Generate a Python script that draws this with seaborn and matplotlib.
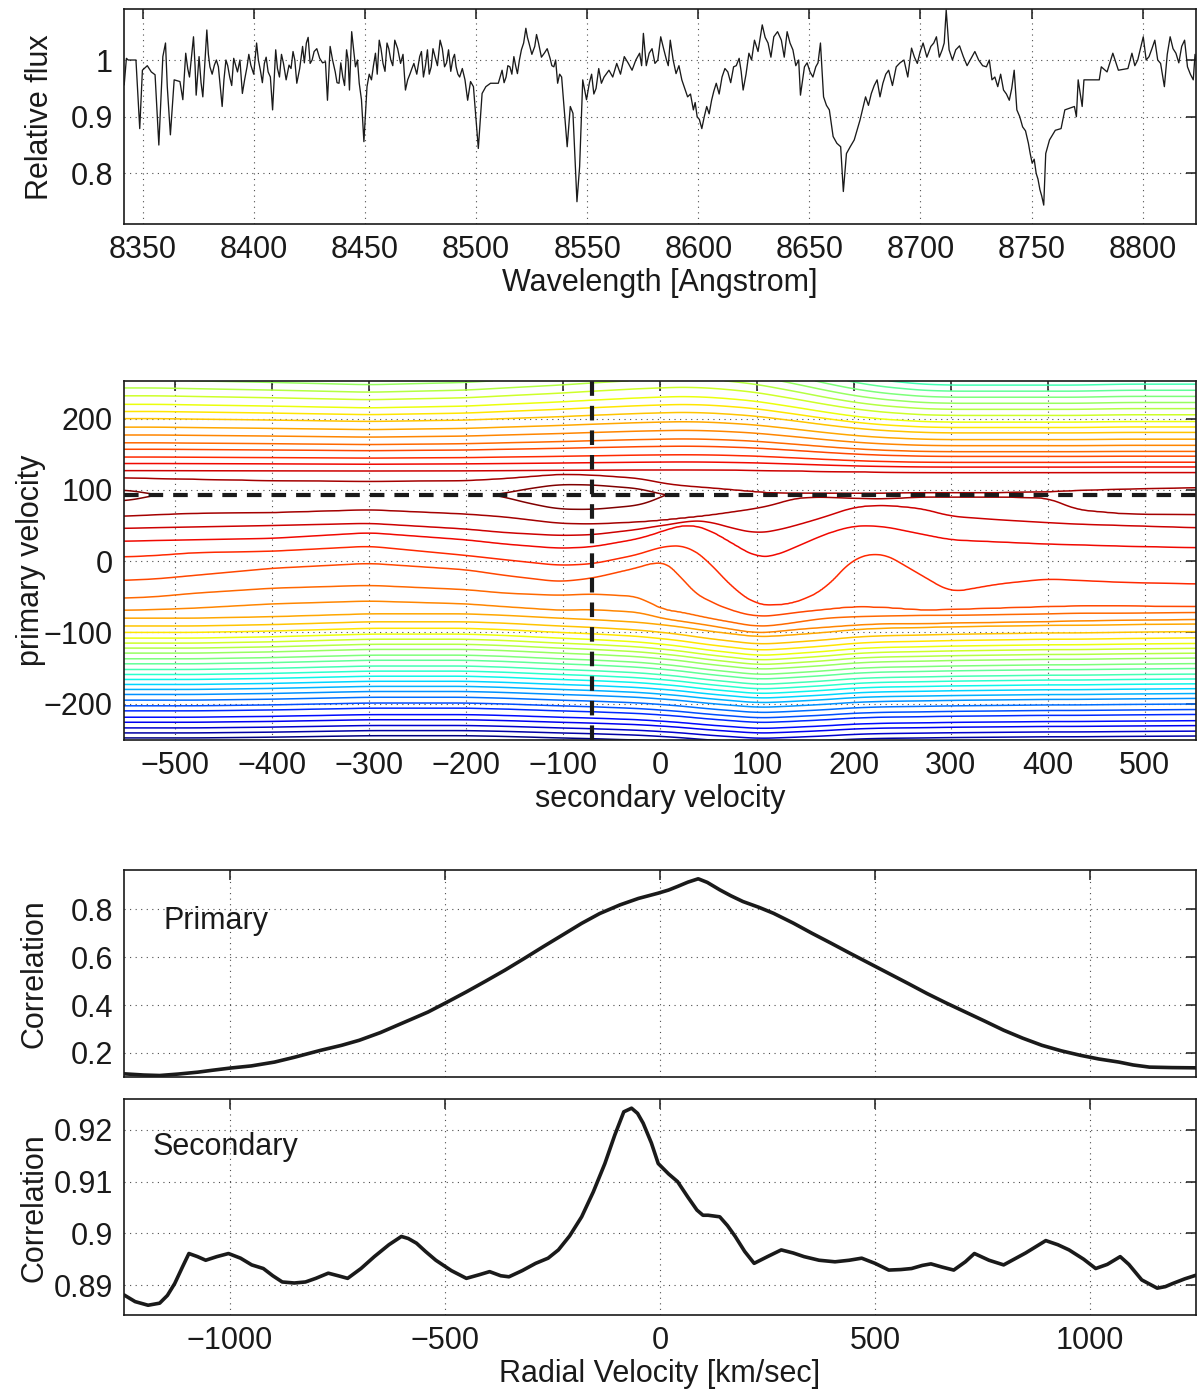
import numpy as np
import matplotlib
matplotlib.use("Agg")
import matplotlib.pyplot as plt
import seaborn as sns

# ---------------- spectrum (top panel) ----------------
wavelength = [8341.6, 8342.6, 8343.4, 8346.9, 8348.6, 8349.8, 8352.0, 8353.8, 8355.5, 8357.2,
              8359.0, 8360.2, 8361.0, 8362.4, 8364.1, 8366.7, 8368.0, 8369.3, 8371.0, 8372.8,
              8374.0, 8375.3, 8377.0, 8378.8, 8380.2, 8382.2, 8384.0, 8385.7, 8387.4, 8389.1,
              8390.9, 8392.6, 8394.8, 8396.9, 8398.6, 8401.2, 8402.9, 8404.7, 8406.4, 8408.4,
              8409.8, 8411.5, 8413.3, 8415.8, 8417.6, 8419.3, 8421.9, 8423.6, 8425.3, 8427.1,
              8429.6, 8432.2, 8433.1, 8434.3, 8436.6, 8438.3, 8440.0, 8441.7, 8443.0, 8444.0,
              8445.7, 8447.4, 8449.5, 8450.9, 8452.9, 8454.7, 8456.4, 8458.1, 8459.9, 8461.6,
              8463.4, 8466.0, 8468.2, 8470.3, 8472.0, 8474.6, 8476.3, 8478.1, 8479.8, 8481.5,
              8483.8, 8485.8, 8487.6, 8489.6, 8491.0, 8492.6, 8495.0, 8496.2, 8497.5, 8498.8,
              8501.0, 8502.7, 8504.4, 8506.5, 8510.0, 8511.7, 8513.5, 8515.2, 8517.0, 8518.6,
              8520.4, 8522.4, 8523.8, 8526.4, 8528.1, 8530.7, 8533.3, 8535.0, 8536.7, 8538.5,
              8539.7, 8541.0, 8542.4, 8543.6, 8545.4, 8546.6, 8548.0, 8549.7, 8552.0, 8554.0,
              8556.4, 8559.8, 8563.3, 8566.7, 8570.2, 8573.6, 8575.3, 8577.9, 8580.5, 8583.1,
              8585.7, 8587.4, 8590.0, 8592.6, 8595.2, 8597.8, 8599.5, 8601.6, 8603.8, 8606.0,
              8608.1, 8610.7, 8613.3, 8615.9, 8618.4, 8620.2, 8622.8, 8625.3, 8628.8, 8631.4,
              8634.0, 8637.4, 8640.0, 8642.6, 8645.2, 8646.0, 8647.8, 8650.3, 8652.9, 8655.0,
              8656.4, 8659.0, 8660.7, 8662.4, 8664.1, 8665.3, 8666.7, 8668.4, 8670.2, 8672.8,
              8675.3, 8677.9, 8680.5, 8683.1, 8685.7, 8689.1, 8692.6, 8696.0, 8698.6, 8701.2,
              8704.7, 8707.2, 8709.8, 8711.6, 8712.9, 8715.9, 8719.3, 8722.8, 8726.2, 8729.7,
              8732.2, 8734.8, 8737.4, 8740.0, 8742.2, 8743.4, 8746.0, 8748.6, 8750.3, 8752.1,
              8753.8, 8755.5, 8756.4, 8758.1, 8760.7, 8763.3, 8765.0, 8769.3, 8770.2, 8771.0,
              8772.8, 8773.6, 8780.5, 8781.4, 8784.0, 8786.6, 8789.1, 8793.4, 8795.2, 8797.8,
              8800.3, 8802.9, 8805.5, 8808.1, 8809.8, 8812.4, 8815.0, 8817.6, 8820.2, 8822.8,
              8824.5]
rel_flux = [0.956, 1.003, 1.000, 1.000, 0.879, 0.982, 0.990, 0.979, 0.974, 0.850,
            1.006, 1.030, 0.953, 0.868, 0.965, 0.962, 0.930, 1.012, 0.970, 1.041,
            0.938, 1.006, 0.935, 1.053, 0.988, 0.991, 0.988, 0.918, 1.000, 0.970,
            1.003, 0.979, 0.941, 0.988, 0.991, 1.030, 0.982, 0.994, 0.979, 0.912,
            1.018, 0.970, 0.994, 0.991, 1.015, 0.959, 1.024, 1.030, 0.994, 1.015,
            1.003, 0.997, 0.929, 1.024, 0.979, 0.959, 0.970, 1.018, 0.947, 1.050,
            0.988, 0.959, 0.856, 0.953, 0.965, 1.012, 1.035, 0.994, 1.030, 1.000,
            1.035, 0.994, 0.947, 0.976, 0.994, 1.006, 0.970, 1.018, 0.988, 1.006,
            1.035, 0.988, 1.018, 1.003, 0.988, 0.970, 0.965, 0.929, 0.962, 0.953,
            0.844, 0.941, 0.953, 0.959, 0.959, 0.982, 0.970, 0.988, 1.006, 0.976,
            1.018, 1.056, 1.030, 1.024, 1.030, 1.012, 1.003, 0.988, 0.959, 0.970,
            0.912, 0.847, 0.918, 0.906, 0.750, 0.812, 0.965, 0.930, 0.975, 0.950,
            0.959, 0.982, 0.994, 1.006, 0.982, 1.012, 1.047, 1.012, 0.994, 1.041,
            1.000, 1.035, 0.976, 0.965, 0.935, 0.912, 0.900, 0.879, 0.918, 0.929,
            0.959, 0.970, 0.979, 0.988, 1.003, 0.947, 1.012, 1.035, 1.062, 1.030,
            1.041, 1.035, 1.050, 1.018, 1.000, 0.938, 0.988, 0.979, 0.988, 1.030,
            0.935, 0.912, 0.865, 0.853, 0.847, 0.768, 0.835, 0.847, 0.859, 0.894,
            0.935, 0.941, 0.965, 0.959, 0.982, 0.988, 1.000, 1.021, 0.994, 1.030,
            1.024, 1.041, 1.018, 1.088, 1.018, 1.018, 1.006, 1.003, 1.000, 0.988,
            0.965, 0.953, 0.947, 0.929, 0.982, 0.912, 0.882, 0.853, 0.818, 0.800,
            0.771, 0.744, 0.835, 0.859, 0.876, 0.879, 0.912, 0.918, 0.900, 0.965,
            0.918, 0.965, 0.965, 0.988, 0.979, 1.012, 0.982, 0.985, 1.012, 1.000,
            1.041, 1.006, 1.035, 0.994, 0.953, 1.041, 1.012, 1.024, 0.988, 0.965,
            0.994]
# finer jitter readings between the points above
wavelength_fine = [8370.2, 8373.5, 8376.2, 8379.5, 8381.2, 8383.1, 8386.5, 8388.2, 8390.0, 8391.8,
                   8393.7, 8395.8, 8397.7, 8399.9, 8402.0, 8403.8, 8405.5, 8407.4, 8410.6, 8412.4,
                   8414.5, 8416.7, 8418.4, 8420.6, 8422.7, 8424.4, 8426.2, 8428.3, 8430.9, 8435.4,
                   8437.4, 8439.1, 8440.8, 8442.4, 8446.6, 8448.4, 8451.9, 8453.8, 8455.5, 8457.2,
                   8459.0, 8460.7, 8462.5, 8464.7, 8467.1, 8469.2, 8471.1, 8473.3, 8475.4, 8477.2,
                   8478.9, 8480.6, 8482.6, 8484.8, 8486.7, 8488.6, 8490.3, 8491.8, 8493.8, 8512.6,
                   8514.3, 8516.1, 8517.8, 8519.5, 8521.4, 8523.1, 8525.1, 8527.2, 8529.4, 8532.0,
                   8534.1, 8535.8, 8537.6, 8551.0, 8553.0, 8555.2, 8557.6, 8561.5, 8565.0, 8568.4,
                   8571.9, 8574.5, 8576.6, 8579.2, 8581.8, 8584.4, 8586.5, 8588.7, 8591.3, 8593.9,
                   8596.5, 8598.6, 8600.5, 8602.7, 8604.9, 8607.0, 8609.4, 8612.0, 8614.6, 8617.1,
                   8619.3, 8621.5, 8624.0, 8626.9, 8630.1, 8632.7, 8635.7, 8638.7, 8641.3, 8643.9,
                   8649.0, 8651.6, 8653.9, 8657.7, 8676.6, 8679.2, 8681.8, 8684.4, 8687.4, 8690.8,
                   8694.3, 8697.3, 8699.9, 8702.9, 8706.0, 8708.5, 8710.7, 8714.4, 8717.6, 8721.0,
                   8724.5, 8728.0, 8731.0, 8733.5, 8736.1, 8738.7, 8741.1, 8744.7, 8747.3, 8749.4,
                   8751.2, 8752.9, 8754.6, 8796.5, 8799.0, 8801.6, 8804.2, 8806.8, 8811.1, 8813.7,
                   8816.3, 8818.9, 8821.5, 8823.6]
rel_flux_fine = [0.985, 0.990, 0.960, 1.010, 0.975, 1.000, 0.965, 0.990, 0.955, 0.990,
                 1.000, 0.965, 1.010, 0.975, 1.000, 0.960, 1.005, 0.970, 0.985, 1.010,
                 0.965, 0.985, 1.000, 0.985, 0.995, 1.040, 1.000, 1.020, 0.995, 1.000,
                 0.960, 0.995, 0.955, 1.000, 1.000, 0.930, 0.975, 0.990, 0.975, 1.020,
                 0.980, 1.020, 0.990, 1.020, 1.010, 0.965, 0.985, 0.975, 1.015, 0.990,
                 0.975, 1.020, 0.990, 1.020, 0.995, 0.980, 1.010, 0.975, 0.985, 0.960,
                 0.990, 0.975, 0.990, 1.000, 1.030, 1.040, 1.010, 1.045, 1.005, 1.020,
                 0.990, 1.000, 0.975, 0.960, 0.940, 0.985, 0.970, 0.970, 0.975, 0.995,
                 1.000, 0.990, 0.990, 1.020, 1.000, 1.020, 0.990, 1.000, 0.990, 0.950,
                 0.940, 0.925, 0.895, 0.900, 0.905, 0.945, 0.940, 0.985, 0.960, 0.990,
                 0.980, 0.975, 1.000, 1.015, 1.040, 1.005, 1.050, 1.005, 1.030, 0.990,
                 0.995, 0.970, 0.995, 0.920, 0.920, 0.955, 0.935, 0.975, 0.955, 0.995,
                 0.970, 1.005, 1.015, 1.005, 1.030, 1.005, 1.030, 1.000, 1.025, 0.990,
                 1.015, 0.990, 1.000, 0.970, 0.975, 0.940, 0.950, 0.900, 0.875, 0.835,
                 0.825, 0.790, 0.760, 0.990, 1.020, 1.000, 1.020, 1.000, 1.010, 1.020,
                 0.995, 1.035, 0.975, 1.010]

# ---------------- 2-D correlation surface (middle panel) ----------------
# secondary velocity nodes where contour positions were read
sec_nodes = [-553, -520, -480, -400, -300, -200, -160, -104, -70, -20, 0, 15, 30, 50,
             75, 100, 120, 140, 170, 200, 230, 270, 300, 350, 400, 430, 480, 553]
ridge_y = 93
ridge_level = [31.4, 31.0, 30.7, 30.6, 30.6, 30.8, 31.1, 32.0, 32.0, 31.6, 31.05, 30.9, 30.8, 30.7,
               30.6, 30.5, 30.4, 30.35, 30.3, 30.25, 30.2, 30.3, 30.35, 30.4, 30.45, 30.5, 30.55, 30.6]
# primary velocity of individual contour levels (below the ridge)
lev30_lo = [63, 65, 67, 68, 72, 66, 62, 53, 52, 55, 57, 59, 61, 64,
            69, 74, 80, 89, 90, 88, 87, 90, 90, 90, 89, 72, 66, 65]
lev29_lo = [46, 47, 48, 50, 53, 45, 40, 36, 37, 45, 50, 52, 57, 56,
            46, 39, 43, 50, 62, 76, 79, 74, 63, 58, 54, 52, 50, 47]
lev28_lo = [28, 29, 30, 32, 40, 30, 24, 18, 20, 32, 41, 48, 52, 45,
            25, 5, 8, 20, 38, 50, 49, 38, 30, 27, 24, 23, 21, 19]
lev27_lo = [6, 8, 12, 14, 21, 8, 2, -6, -4, 10, 20, 22, 21, 0,
            -38, -62, -62, -59, -40, 5, 12, -20, -44, -32, -25, -27, -30, -32]
lev26_lo = [-27, -25, -20, -10, -3, -12, -20, -29, -24, -8, 1, -8, -40, -56,
            -70, -78, -76, -72, -68, -64, -65, -69, -68, -66, -64, -63, -63, -64]
lev25_lo = [-52, -50, -45, -38, -34, -40, -45, -48, -46, -50, -68, -70, -74, -80,
            -86, -92, -90, -86, -80, -78, -77, -76, -76, -75, -74, -73, -73, -72]
lev24_lo = [-69, -68, -66, -60, -56, -60, -64, -69, -68, -72, -80, -83, -86, -90,
            -96, -101, -99, -96, -93, -90, -88, -88, -87, -86, -85, -84, -83, -82]
lev30_up = [117, 116, 115, 113, 112, 113, 116, 122, 121, 116, 110, 107, 105, 103,
            100, 97, 95, 95, 95, 95, 95, 96, 96, 96, 97, 99, 101, 103]
# outer levels: position at the left edge, plus a shift along secondary velocity
outer_lo_levels = list(range(0, 24))
outer_lo_y = [-256, -248, -241, -234, -226, -219, -210, -203, -195, -187, -180, -173,
              -166, -159, -152, -144, -137, -129, -122, -115, -108, -100, -91, -80]
outer_lo_shift = [0, 0, 0, 2, 6, 6, 4, 0, -2, -6, -9, -11, -14, -18,
                  -22, -26, -25, -23, -20, -16, -14, -13, -12, -11, -10, -10, -9, -8]
outer_up_levels = list(range(29, 12, -1))
outer_up_y = [127, 137, 146, 157, 166, 177, 188, 200, 210, 220, 232, 243, 254, 265, 276, 287, 298]
outer_up_shift = [0, 0, -1, -3, -6, -3, 0, 4, 7, 11, 12, 13, 13, 12,
                  9, 5, 0, -5, -13, -20, -25, -29, -30, -30, -30, -30, -29, -29]
contour_levels = list(range(1, 32))
v_secondary_best = -70
v_primary_best = 93

# ---------------- 1-D correlations (bottom panels) ----------------
prim_v = [-1246, -1200, -1163, -1120, -1074, -1040, -999, -950, -896, -850, -789, -740, -699,
          -650, -610, -575, -539, -495, -450, -405, -360, -315, -271, -225, -182, -140, -93,
          -50, -4, 20, 41, 65, 89, 110, 139, 165, 193, 230, 264, 310, 353, 398, 442, 487,
          532, 577, 621, 665, 710, 755, 799, 843, 888, 933, 978, 1020, 1067, 1100, 1138,
          1190, 1246]
prim_corr = [0.113, 0.108, 0.106, 0.112, 0.120, 0.128, 0.137, 0.146, 0.162, 0.182, 0.211, 0.232,
             0.253, 0.285, 0.316, 0.343, 0.371, 0.412, 0.455, 0.500, 0.546, 0.595, 0.644, 0.694,
             0.741, 0.782, 0.818, 0.845, 0.867, 0.880, 0.895, 0.913, 0.927, 0.912, 0.881, 0.856,
             0.832, 0.808, 0.783, 0.742, 0.700, 0.658, 0.616, 0.574, 0.532, 0.490, 0.448, 0.409,
             0.371, 0.333, 0.295, 0.262, 0.232, 0.209, 0.190, 0.175, 0.162, 0.150, 0.141, 0.139,
             0.138]
sec_v = [-1246, -1220, -1190, -1163, -1145, -1128, -1110, -1095, -1075, -1056, -1030, -1003,
         -975, -949, -922, -900, -878, -850, -824, -800, -771, -748, -726, -695, -664, -630,
         -601, -585, -566, -545, -521, -485, -450, -420, -396, -370, -351, -320, -289, -260,
         -236, -210, -182, -155, -128, -105, -84, -66, -52, -39, -20, -4, 20, 41, 65, 86,
         100, 112, 139, 157, 175, 197, 219, 250, 282, 310, 335, 370, 407, 440, 469, 500,
         532, 560, 585, 610, 630, 655, 683, 710, 731, 765, 799, 850, 897, 925, 951, 985,
         1013, 1040, 1070, 1090, 1120, 1156, 1175, 1192, 1220, 1246]
sec_corr = [0.8881, 0.8868, 0.8861, 0.8865, 0.8880, 0.8903, 0.8935, 0.8961, 0.8955, 0.8948,
            0.8955, 0.8961, 0.8952, 0.8939, 0.8932, 0.8918, 0.8906, 0.8904, 0.8906, 0.8913,
            0.8923, 0.8918, 0.8913, 0.8932, 0.8955, 0.8978, 0.8994, 0.8990, 0.8981, 0.8965,
            0.8948, 0.8928, 0.8913, 0.8920, 0.8926, 0.8918, 0.8916, 0.8928, 0.8942, 0.8952,
            0.8968, 0.8995, 0.9032, 0.9080, 0.9135, 0.9190, 0.9235, 0.9242, 0.9232, 0.9213,
            0.9175, 0.9135, 0.9115, 0.9100, 0.9070, 0.9045, 0.9035, 0.9035, 0.9032, 0.9015,
            0.8994, 0.8965, 0.8942, 0.8955, 0.8968, 0.8962, 0.8955, 0.8948, 0.8945, 0.8948,
            0.8952, 0.8942, 0.8929, 0.8930, 0.8932, 0.8938, 0.8941, 0.8935, 0.8929, 0.8945,
            0.8961, 0.8948, 0.8939, 0.8962, 0.8986, 0.8978, 0.8968, 0.8950, 0.8932, 0.8940,
            0.8955, 0.8940, 0.8910, 0.8894, 0.8897, 0.8903, 0.8912, 0.8919]

# ---------------- style ----------------
sns.set_theme(style="white")
plt.rcParams["font.family"] = ["Liberation Sans", "DejaVu Sans"]
plt.rcParams["font.size"] = 22
plt.rcParams["text.color"] = "k"
plt.rcParams["axes.labelcolor"] = "k"
plt.rcParams["xtick.color"] = "k"
plt.rcParams["ytick.color"] = "k"
FS = 22


def matlab_axes(ax, ylab_x):
    ax.tick_params(direction="in", length=7, width=1.1, top=True, right=True,
                   labelsize=FS, colors="k", pad=8)
    ax.grid(True, linestyle=(0, (1, 4)), color="0.3", linewidth=0.8)
    ax.yaxis.set_label_coords(ylab_x, 0.5)
    for s in ax.spines.values():
        s.set_color("k")
        s.set_linewidth(1.2)


fig = plt.figure(figsize=(12, 13.95), dpi=100)
ax1 = fig.add_axes([0.1033, 0.8394, 0.8933, 0.1539])
ax2 = fig.add_axes([0.1033, 0.4695, 0.8933, 0.2573])
ax3 = fig.add_axes([0.1033, 0.2280, 0.8933, 0.1484])
ax4 = fig.add_axes([0.1033, 0.0573, 0.8933, 0.1546])

# top: spectrum
sns.lineplot(x=wavelength + wavelength_fine, y=rel_flux + rel_flux_fine, ax=ax1,
             color="k", linewidth=0.95)
ax1.set_xlim(8341.5, 8824)
ax1.set_ylim(0.7106, 1.0894)
ax1.set_xticks([8350, 8400, 8450, 8500, 8550, 8600, 8650, 8700, 8750, 8800])
ax1.set_yticks([0.8, 0.9, 1.0])
ax1.set_yticklabels(["0.8", "0.9", "1"])
ax1.set_xlabel("Wavelength [Angstrom]", fontsize=FS, labelpad=2)
ax1.set_ylabel("Relative flux", fontsize=FS)
matlab_axes(ax1, -0.064)

# middle: correlation surface built from the contour positions read above
xf = np.linspace(-553, 553, 500)
yf = np.linspace(-252, 253, 400)


def along_x(vals, win=13):
    r = np.interp(xf, sec_nodes, vals)
    r = np.pad(r, win // 2, mode="edge")
    return np.convolve(r, np.ones(win) / win, mode="valid")


s_lo = along_x(outer_lo_shift)
s_up = along_x(outer_up_shift)
rows_y, rows_z = [], []
for lev, y0 in zip(outer_lo_levels, outer_lo_y):
    rows_y.append(y0 + s_lo * (0.5 + 0.5 * lev / 23))
    rows_z.append(np.full_like(xf, lev))
for lev, vals in zip(range(24, 31), [lev24_lo, lev25_lo, lev26_lo, lev27_lo, lev28_lo, lev29_lo, lev30_lo]):
    rows_y.append(along_x(vals))
    rows_z.append(np.full_like(xf, lev))
rows_y.append(np.full_like(xf, ridge_y))
rows_z.append(along_x(ridge_level))
rows_y.append(along_x(lev30_up))
rows_z.append(np.full_like(xf, 30))
for lev, y0 in zip(outer_up_levels, outer_up_y):
    rows_y.append(y0 + s_up * (30 - lev) / 12)
    rows_z.append(np.full_like(xf, lev))
rows_y = np.array(rows_y)
rows_z = np.array(rows_z)
Z = np.empty((len(yf), len(xf)))
for i in range(len(xf)):
    Z[:, i] = np.interp(yf, rows_y[:, i], rows_z[:, i])

ax2.contour(xf, yf, Z, levels=contour_levels, cmap="jet", linewidths=1.1)
ax2.axhline(v_primary_best, color="k", linewidth=3.0, dashes=(3.5, 2.4))
ax2.axvline(v_secondary_best, color="k", linewidth=3.0, dashes=(3.5, 2.4))
ax2.set_xlim(-553, 553)
ax2.set_ylim(-251, 252.6)
ax2.set_xticks(range(-500, 501, 100))
ax2.set_yticks([-200, -100, 0, 100, 200])
ax2.set_xlabel("secondary velocity", fontsize=FS, labelpad=2)
ax2.set_ylabel("primary velocity", fontsize=FS)
matlab_axes(ax2, -0.073)

# bottom panels: 1-D correlations
sns.lineplot(x=prim_v, y=prim_corr, ax=ax3, color="k", linewidth=2.6)
ax3.set_xlim(-1246, 1246)
ax3.set_ylim(0.1, 0.964)
ax3.set_xticks([-1000, -500, 0, 500, 1000])
ax3.set_xticklabels([])
ax3.set_yticks([0.2, 0.4, 0.6, 0.8])
ax3.set_yticklabels(["0.2", "0.4", "0.6", "0.8"])
ax3.set_ylabel("Correlation", fontsize=FS)
ax3.set_xlabel("")
ax3.text(-1153, 0.751, "Primary", fontsize=FS, va="center", ha="left")
matlab_axes(ax3, -0.069)

sns.lineplot(x=sec_v, y=sec_corr, ax=ax4, color="k", linewidth=2.6)
ax4.set_xlim(-1246, 1246)
ax4.set_ylim(0.8842, 0.9259)
ax4.set_xticks([-1000, -500, 0, 500, 1000])
ax4.set_yticks([0.89, 0.90, 0.91, 0.92])
ax4.set_yticklabels(["0.89", "0.9", "0.91", "0.92"])
ax4.set_xlabel("Radial Velocity [km/sec]", fontsize=FS, labelpad=2)
ax4.set_ylabel("Correlation", fontsize=FS)
ax4.text(-1180, 0.9167, "Secondary", fontsize=FS, va="center", ha="left")
matlab_axes(ax4, -0.069)

fig.savefig("out.png", dpi=100)
